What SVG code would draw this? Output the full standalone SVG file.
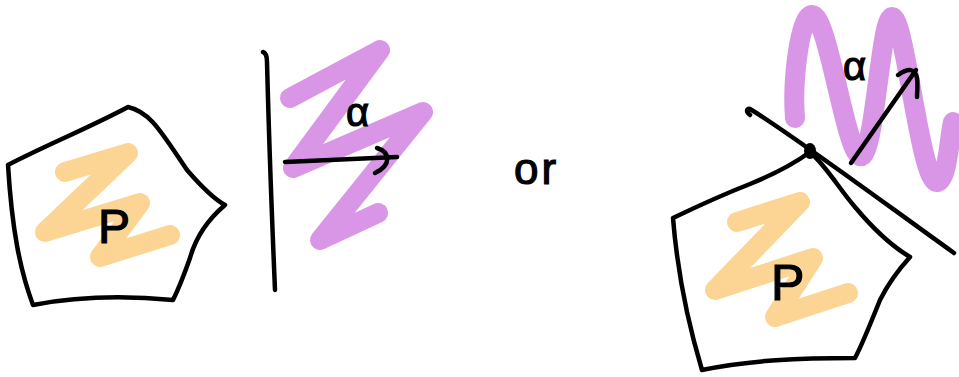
<svg xmlns="http://www.w3.org/2000/svg" width="959" height="377" viewBox="0 0 959 377">
<style>
.ink{fill:none;stroke:#000;stroke-width:4.5;stroke-linecap:round;stroke-linejoin:round}
.orange{fill:none;stroke:#fcd594;stroke-width:20;stroke-linecap:round;stroke-linejoin:round}
.purple{fill:none;stroke:#d996e6;stroke-width:20;stroke-linecap:round;stroke-linejoin:round}
.lbl{font-family:"Liberation Sans",Arial,sans-serif;fill:#000;stroke:#000;stroke-width:1.2}
</style>
<rect width="959" height="377" fill="#fff"/>
<g id="left-polygon">
<path class="orange" d="M65,172 L128,153 L45,232 L140,203 L100,257 L170,235"/>
<path class="ink" d="M8,165 C40,148 95,125 128,107 C150,112 160,130 187,170 C200,185 212,198 225,205 C205,222 195,240 190,258 C184,275 178,290 173,300 C130,296 80,296 33,305 C20,270 12,230 8,165 Z"/>
<text class="lbl" x="98" y="243" font-size="48">P</text>
</g>
<g id="left-halfplane">
<path class="purple" d="M290,98 L380,50 L293,168 L423,112 L320,240 L378,213"/>
<path class="ink" d="M263,52 C266,53 267,57 267,62 C269,140 272,220 275,290"/>
<path class="ink" d="M285,162 L397,157"/>
<path class="ink" d="M377,148 C390,152 392,165 375,173"/>
<text class="lbl" x="346" y="126" font-size="40">α</text>
</g>
<g id="or-label">
<text class="lbl" x="514" y="184" font-size="44" stroke-width="2.5" letter-spacing="3">or</text>
</g>
<g id="right-polygon">
<path class="purple" d="M795,118 C792,80 800,15 812,15 C828,15 845,150 860,156 C875,160 880,18 892,17 C905,16 920,182 937,182 C948,182 950,130 953,122"/>
<path class="orange" d="M737,222 L800,202 L715,290 L813,258 L775,317 L848,293"/>
<path class="ink" d="M673,218 C700,205 727,193 750,184 C777,173 795,163 810,152 C827,167 840,190 855,207 C870,225 890,245 910,257 C900,268 890,280 880,300 C870,325 862,345 855,358 C800,358 750,360 702,370 C690,330 678,280 673,218 Z"/>
<text class="lbl" x="771" y="300" font-size="50">P</text>
</g>
<g id="tangent">
<path class="ink" d="M750,115 C746,112 746,108 750,109 C790,133 880,200 954,253"/>
<ellipse cx="810" cy="151" rx="6" ry="8" fill="#000"/>
<path class="ink" d="M851,163 L916,70"/>
<path class="ink" d="M898,75 C908,68 915,68 917,78 C918,85 917,92 917,97"/>
<text class="lbl" x="843" y="80" font-size="40">α</text>
</g>
</svg>
